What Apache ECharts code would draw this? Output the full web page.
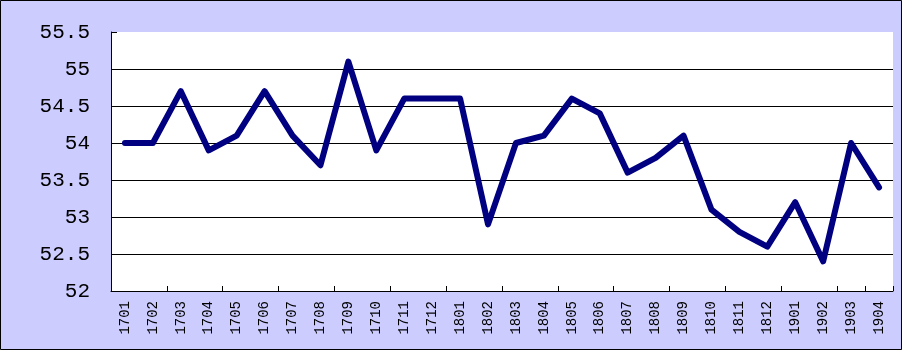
<!DOCTYPE html>
<html><head><meta charset="utf-8">
<script src="https://cdn.jsdelivr.net/npm/echarts@6/dist/echarts.min.js"></script>
<style>html,body{margin:0;padding:0;background:#ccccff}#c{width:902px;height:350px}</style>
</head><body><div id="c"></div>
<script>
const categories = ['1701','1702','1703','1704','1705','1706','1707','1708','1709','1710','1711','1712',
  '1801','1802','1803','1804','1805','1806','1807','1808','1809','1810','1811','1812',
  '1901','1902','1903','1904'];
const values = [54.0,54.0,54.7,53.9,54.1,54.7,54.1,53.7,55.1,53.9,54.6,54.6,
  54.6,52.9,54.0,54.1,54.6,54.4,53.6,53.8,54.1,53.1,52.8,52.6,
  53.2,52.4,54.0,53.4];
const yMin = 52, yMax = 55.5, yStep = 0.5;

const chart = echarts.init(document.getElementById('c'));
chart.setOption({
  backgroundColor: '#ccccff',
  animation: false,
  grid: {left: 111, right: 9, top: 32, bottom: 59, show: true, backgroundColor: '#ffffff', borderWidth: 0},
  xAxis: {
    type: 'category', data: categories, boundaryGap: true,
    axisLine: {lineStyle: {color: '#000', width: 1}},
    axisTick: {show: true, inside: true, length: 5, interval: 1, lineStyle: {color: '#000'}},
    axisLabel: {interval: 0, rotate: 90, margin: 10, color: '#000', fontFamily: 'Liberation Mono', fontSize: 14}
  },
  yAxis: {
    type: 'value', min: yMin, max: yMax, interval: yStep,
    axisLine: {show: true, lineStyle: {color: '#000', width: 1}},
    axisTick: {show: true, inside: true, length: 6, lineStyle: {color: '#000'}},
    axisLabel: {color: '#000', fontFamily: 'Liberation Mono', fontSize: 21, margin: 21},
    splitLine: {show: true, lineStyle: {color: ['#000','#000','#000','#000','#000','#000','#000','rgba(0,0,0,0)'], width: 1}}
  },
  series: [{
    type: 'line', data: values, showSymbol: false, symbol: 'none',
    lineStyle: {color: '#000080', width: 6, cap: 'round', join: 'round'}
  }],
  graphic: [{type: 'rect', shape: {x: 0.5, y: 0.5, width: 901, height: 349}, style: {fill: 'none', stroke: '#000', lineWidth: 1}, z: 100}]
});
</script></body></html>
